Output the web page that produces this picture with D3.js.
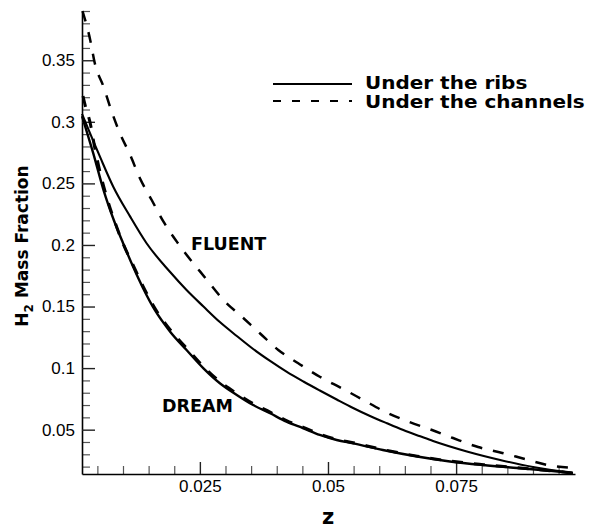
<!DOCTYPE html>
<meta charset="utf-8">
<style>body{margin:0;background:#fff}</style>
<svg width="599" height="529"></svg>
<script src="https://cdn.jsdelivr.net/npm/d3@7/dist/d3.min.js"></script>
<script>

// values
var fluentRibsZ  = [0.0020,0.0055,0.0081,0.0114,0.0146,0.0192,0.0224,0.0257,0.0289,0.0322,0.0354,0.0387,0.0419,0.0452,0.0484,0.0517,0.0549,0.0582,0.0615,0.0647,0.0680,0.0705,0.0771,0.0836,0.0900,0.0978];
var fluentRibsH2 = [0.3064,0.2717,0.2473,0.2230,0.2014,0.1780,0.1634,0.1500,0.1374,0.1261,0.1155,0.1058,0.0971,0.0891,0.0818,0.0745,0.0676,0.0611,0.0552,0.0497,0.0446,0.0408,0.0323,0.0254,0.0197,0.0148];

var fluentChanZ  = [0.0021,0.0036,0.0045,0.0062,0.0078,0.0094,0.0114,0.0133,0.0156,0.0179,0.0205,0.0265,0.0296,0.0332,0.0367,0.0403,0.0442,0.0484,0.0527,0.0569,0.0611,0.0657,0.0703,0.0744,0.0793,0.0840,0.0884,0.0929,0.0982];
var fluentChanH2 = [0.390,0.3665,0.3475,0.3285,0.3082,0.2907,0.2731,0.2541,0.2365,0.2189,0.2027,0.1710,0.1553,0.1417,0.1283,0.1147,0.1039,0.0930,0.0836,0.0741,0.0646,0.0565,0.0497,0.0432,0.0359,0.0311,0.0262,0.0213,0.0189];

var dreamRibsZ  = [0.0020,0.0042,0.0062,0.0082,0.0100,0.0120,0.0139,0.0162,0.0192,0.0224,0.0257,0.0289,0.0322,0.0354,0.0387,0.0419,0.0452,0.0484,0.0517,0.0549,0.0607,0.0674,0.0738,0.0803,0.0869,0.0933,0.0978];
var dreamRibsH2 = [0.3047,0.2744,0.2446,0.2203,0.2016,0.1821,0.1651,0.1472,0.1296,0.1147,0.0998,0.0877,0.0782,0.0700,0.0633,0.0565,0.0511,0.0457,0.0416,0.0389,0.0335,0.0282,0.0242,0.0213,0.0189,0.0166,0.0148];

var dreamChanZ  = [0.0022,0.0026,0.0036,0.0045,0.0055,0.0068,0.0084,0.0100,0.0120,0.0139,0.0162,0.0192,0.0224,0.0257,0.0289,0.0322,0.0354,0.0387,0.0419,0.0452,0.0484,0.0517,0.0549,0.0607,0.0674,0.0738,0.0803,0.0869,0.0933,0.0978];
var dreamChanH2 = [0.321,0.3137,0.299,0.2787,0.2595,0.2392,0.2189,0.2013,0.1835,0.1665,0.1488,0.1312,0.1162,0.1012,0.0890,0.0794,0.0711,0.0643,0.0574,0.0519,0.0464,0.0422,0.0394,0.0339,0.0285,0.0245,0.0216,0.0191,0.0167,0.0148];

var yTicks = [0.05,0.1,0.15,0.2,0.25,0.3,0.35];
var yTickLabels = ["0.05","0.1","0.15","0.2","0.25","0.3","0.35"];
var xTicks = [0.025,0.05,0.075];
var xTickLabels = ["0.025","0.05","0.075"];

var legendNames = ["Under the ribs","Under the channels"];

var svg = d3.select("svg");

var x = d3.scaleLinear().domain([0.002,0.0982]).range([82,575]);
var y = d3.scaleLinear().domain([0.014,0.39]).range([474,11]);

var boldFont = "'DejaVu Sans', Verdana, sans-serif";
var tickFont = "'Liberation Sans', Arial, sans-serif";

// minor ticks
var yMinor = d3.range(0.02,0.3951,0.01).filter(v => !yTicks.some(t => Math.abs(t-v) < 1e-6));
var xMinor = d3.range(0.005,0.0961,0.005).filter(v => !xTicks.some(t => Math.abs(t-v) < 1e-6));

svg.append("g")
    .attr("transform","translate(82,0)")
    .call(d3.axisLeft(y).tickValues(yMinor).tickSize(-8).tickSizeOuter(0).tickFormat(""))
    .call(g => g.select(".domain").remove())
    .selectAll("line").attr("stroke","#555").attr("stroke-width",1.2);

svg.append("g")
    .attr("transform","translate(0,474)")
    .call(d3.axisBottom(x).tickValues(xMinor).tickSize(-8).tickSizeOuter(0).tickFormat(""))
    .call(g => g.select(".domain").remove())
    .selectAll("line").attr("stroke","#555").attr("stroke-width",1.2);

var yAxis = svg.append("g")
    .attr("transform","translate(82,0)")
    .call(d3.axisLeft(y).tickValues(yTicks).tickSize(-13).tickSizeOuter(0)
      .tickPadding(20).tickFormat((d,i) => yTickLabels[i]));

var xAxis = svg.append("g")
    .attr("transform","translate(0,474)")
    .call(d3.axisBottom(x).tickValues(xTicks).tickSize(-12).tickSizeOuter(0)
      .tickPadding(20).tickFormat((d,i) => xTickLabels[i]));

[yAxis, xAxis].forEach(g => {
  g.select(".domain").attr("stroke","#000").attr("stroke-width",1.6);
  g.selectAll(".tick line").attr("stroke","#222").attr("stroke-width",1.4);
  g.selectAll("text").attr("font-family",tickFont).attr("font-size",17).attr("fill","#000");
});
yAxis.selectAll("text").attr("x",-7);
xAxis.selectAll("text").attr("y",6).attr("dy","0.71em");

// curves
var line = d3.line()
    .x(d => x(d[0]))
    .y(d => y(d[1]))
    .curve(d3.curveMonotoneX);

function series(zs, vs) { return zs.map((z,i) => [z, vs[i]]); }

var curves = [
  {pts: series(dreamRibsZ, dreamRibsH2), dash: null, w: 2.4},
  {pts: series(dreamChanZ, dreamChanH2), dash: "11,11", w: 3},
  {pts: series(fluentRibsZ, fluentRibsH2), dash: null, w: 2.1},
  {pts: series(fluentChanZ, fluentChanH2), dash: "11,11", w: 2.5}
];

svg.append("g").selectAll("path")
  .data(curves)
  .enter().append("path")
    .attr("d", d => line(d.pts))
    .attr("fill","none")
    .attr("stroke","#000")
    .attr("stroke-width", d => d.w)
    .attr("stroke-dasharray", d => d.dash);

// labels
svg.append("text")
    .attr("x",191).attr("y",250)
    .attr("font-family",boldFont).attr("font-weight","bold").attr("font-size",17.5)
    .text("FLUENT");
svg.append("text")
    .attr("x",162).attr("y",411.5)
    .attr("font-family",boldFont).attr("font-weight","bold").attr("font-size",17.5)
    .text("DREAM");

// axis titles
svg.append("text")
    .attr("x",328).attr("y",524)
    .attr("text-anchor","middle")
    .attr("font-family",boldFont).attr("font-weight","bold").attr("font-size",21)
    .text("z");

var yt = svg.append("text")
    .attr("transform","translate(28,246) rotate(-90)")
    .attr("text-anchor","middle")
    .attr("font-family",boldFont).attr("font-weight","bold").attr("font-size",17);
yt.append("tspan").text("H");
yt.append("tspan").attr("font-size",12).attr("dy",5).text("2");
yt.append("tspan").attr("dy",-5).text(" Mass Fraction");

// legend
var legend = svg.append("g").selectAll("g")
  .data(legendNames)
  .enter().append("g")
    .attr("transform",(d,i) => "translate(273," + (84 + i*17) + ")");

legend.append("line")
    .attr("x1",0).attr("x2",79)
    .attr("stroke","#000").attr("stroke-width",2.2)
    .attr("stroke-dasharray",(d,i) => i ? "8,11" : null);

legend.append("text")
    .attr("transform",(d,i) => "translate(92," + (i ? 6.5 : 4.5) + ") scale(1.19,1)")
    .attr("font-family",boldFont).attr("font-weight","bold").attr("font-size",16.8)
    .text(d => d);

</script>
